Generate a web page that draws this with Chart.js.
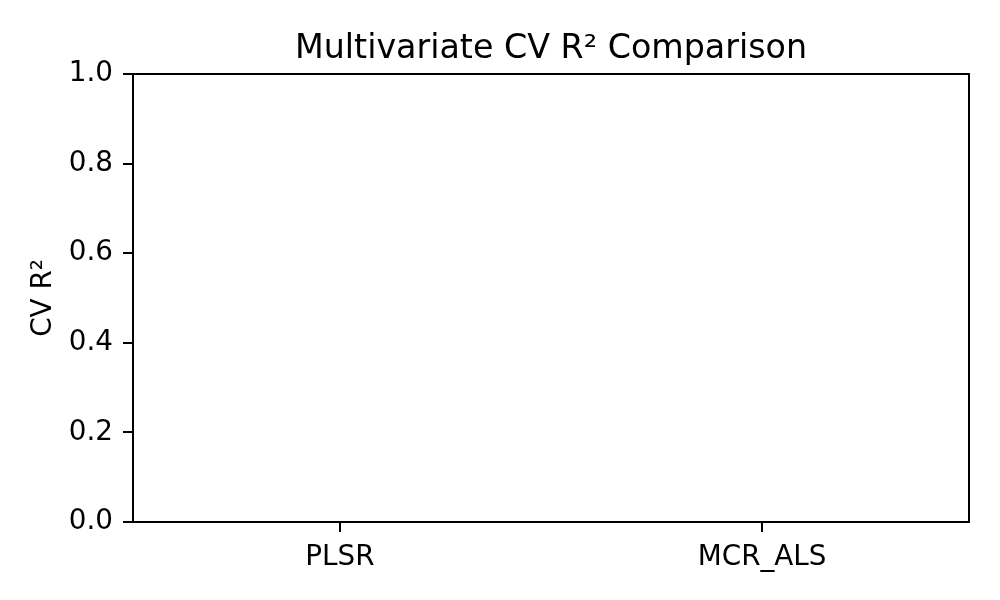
<!DOCTYPE html>
<html>
<head>
<meta charset="utf-8">
<script src="https://cdn.jsdelivr.net/npm/chart.js@4"></script>
<style>
html,body{margin:0;padding:0;background:#fff;}
#wrap{width:1000px;height:600px;}
</style>
</head>
<body>
<div id="wrap"><canvas id="c" width="1000" height="600"></canvas></div>
<script>
const categories = ["PLSR", "MCR_ALS"];
const cvR2 = [0, 0];
const yTicks = [0, 0.2, 0.4, 0.6, 0.8, 1.0];

const FONT = "'DejaVu Sans', sans-serif";

const framePlugin = {
  id: 'frame',
  afterDraw(chart) {
    const {ctx, chartArea: a} = chart;
    ctx.save();
    ctx.strokeStyle = '#000';
    ctx.lineWidth = 2;
    ctx.beginPath();
    ctx.moveTo(a.left, a.top);
    ctx.lineTo(a.right, a.top);
    ctx.lineTo(a.right, a.bottom);
    ctx.stroke();
    ctx.restore();
  }
};

new Chart(document.getElementById('c'), {
  type: 'bar',
  data: {
    datasets: [{
      data: categories.map((c, i) => ({x: i, y: cvR2[i]})),
      backgroundColor: '#1f77b4',
      borderWidth: 0,
      barPercentage: 0.8,
      categoryPercentage: 1.0
    }]
  },
  options: {
    responsive: false,
    animation: false,
    layout: {padding: {left: 0, right: 31, top: 0, bottom: 0}},
    plugins: {
      legend: {display: false},
      tooltip: {enabled: false},
      title: {
        display: true,
        fullSize: false,
        text: 'Multivariate CV R² Comparison',
        color: '#000',
        font: {family: FONT, size: 33.3, weight: 'normal', lineHeight: 1.2},
        padding: {top: 29, bottom: 5}
      }
    },
    scales: {
      x: {
        type: 'linear',
        min: -0.49,
        max: 1.49,
        offset: false,
        afterBuildTicks(scale) {
          scale.ticks = categories.map((c, i) => ({value: i}));
        },
        afterFit(scale) { scale.height = 78; },
        ticks: {
          color: '#000',
          font: {family: FONT, size: 27.8},
          padding: 9,
          maxRotation: 0,
          autoSkip: false,
          callback: (v) => categories[v] !== undefined ? categories[v] : ''
        },
        grid: {offset: false, drawOnChartArea: false, drawTicks: true, tickLength: 10, color: '#000', lineWidth: 2},
        border: {display: true, color: '#000', width: 2}
      },
      y: {
        min: 0,
        max: 1,
        afterBuildTicks(scale) {
          scale.ticks = yTicks.map(v => ({value: v}));
        },
        afterFit(scale) { scale.width = 133; },
        ticks: {
          color: '#000',
          font: {family: FONT, size: 27.8},
          padding: 10,
          callback: (v) => Number(v).toFixed(1)
        },
        grid: {drawOnChartArea: false, drawTicks: true, tickLength: 10, color: '#000', lineWidth: 2},
        border: {display: true, color: '#000', width: 2},
        title: {
          display: true,
          text: 'CV R²',
          color: '#000',
          font: {family: FONT, size: 27.8, lineHeight: 1.2},
          padding: {top: 27, bottom: 0}
        }
      }
    }
  },
  plugins: [framePlugin]
});
</script>
</body>
</html>
